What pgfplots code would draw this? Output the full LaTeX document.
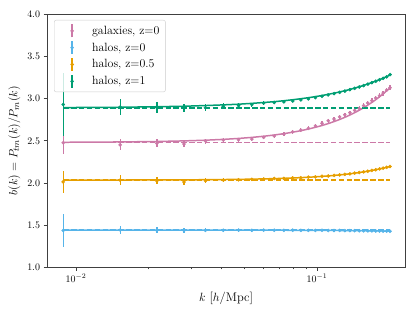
\documentclass[border=0pt]{standalone}
\usepackage{pgfplots}
\usepackage{pgfplotstable}
\pgfplotsset{compat=1.18}
\definecolor{cpink}{RGB}{204,121,167}
\definecolor{cblue}{RGB}{86,180,233}
\definecolor{corange}{RGB}{230,159,0}
\definecolor{cgreen}{RGB}{0,158,115}

% columns: k, measured bias, error, model
\pgfplotstableread{
k b e m
0.00885 2.477 0.135 2.4824
0.01525 2.452 0.067 2.4863
0.02165 2.470 0.047 2.4918
0.02805 2.461 0.037 2.4988
0.03445 2.497 0.030 2.5072
0.04085 2.509 0.026 2.5169
0.04725 2.512 0.024 2.5280
0.05365 2.520 0.022 2.5403
0.06005 2.541 0.021 2.5539
0.06645 2.558 0.020 2.5686
0.07285 2.580 0.022 2.5846
0.07925 2.606 0.024 2.6017
0.08565 2.626 0.025 2.6200
0.09205 2.648 0.025 2.6394
0.09845 2.676 0.025 2.6599
0.10485 2.708 0.025 2.6815
0.11125 2.737 0.025 2.7041
0.11765 2.759 0.025 2.7279
0.12405 2.783 0.025 2.7527
0.13045 2.809 0.025 2.7785
0.13685 2.834 0.025 2.8054
0.14325 2.860 0.028 2.8333
0.14965 2.884 0.028 2.8622
0.15605 2.918 0.028 2.8921
0.16245 2.948 0.028 2.9231
0.16885 2.976 0.028 2.9550
0.17525 3.007 0.028 2.9879
0.18165 3.034 0.028 3.0217
0.18805 3.065 0.028 3.0566
0.19445 3.102 0.028 3.0924
0.20085 3.130 0.028 3.1292
}\galz

\pgfplotstableread{
k b e m
0.00885 1.437 0.194 1.4410
0.01525 1.442 0.053 1.4409
0.02165 1.438 0.037 1.4409
0.02805 1.437 0.029 1.4408
0.03445 1.438 0.023 1.4406
0.04085 1.439 0.020 1.4405
0.04725 1.441 0.017 1.4403
0.05365 1.439 0.015 1.4401
0.06005 1.440 0.013 1.4399
0.06645 1.440 0.012 1.4397
0.07285 1.439 0.011 1.4394
0.07925 1.440 0.010 1.4391
0.08565 1.438 0.009 1.4388
0.09205 1.439 0.009 1.4385
0.09845 1.437 0.008 1.4381
0.10485 1.438 0.008 1.4377
0.11125 1.437 0.007 1.4373
0.11765 1.436 0.007 1.4368
0.12405 1.437 0.007 1.4364
0.13045 1.435 0.006 1.4359
0.13685 1.436 0.006 1.4354
0.14325 1.434 0.006 1.4348
0.14965 1.434 0.005 1.4343
0.15605 1.433 0.005 1.4337
0.16245 1.432 0.005 1.4331
0.16885 1.432 0.005 1.4324
0.17525 1.431 0.005 1.4318
0.18165 1.430 0.004 1.4311
0.18805 1.429 0.004 1.4304
0.19445 1.429 0.004 1.4297
0.20085 1.428 0.004 1.4289
}\haloz

\pgfplotstableread{
k b e m
0.00885 2.013 0.130 2.0343
0.01525 2.034 0.060 2.0349
0.02165 2.024 0.042 2.0359
0.02805 2.012 0.033 2.0371
0.03445 2.027 0.027 2.0387
0.04085 2.034 0.022 2.0407
0.04725 2.038 0.019 2.0429
0.05365 2.043 0.017 2.0455
0.06005 2.047 0.015 2.0484
0.06645 2.052 0.014 2.0517
0.07285 2.054 0.013 2.0552
0.07925 2.060 0.012 2.0591
0.08565 2.062 0.011 2.0633
0.09205 2.069 0.010 2.0679
0.09845 2.072 0.009 2.0728
0.10485 2.079 0.009 2.0780
0.11125 2.083 0.008 2.0835
0.11765 2.090 0.008 2.0894
0.12405 2.095 0.007 2.0956
0.13045 2.103 0.007 2.1021
0.13685 2.108 0.007 2.1089
0.14325 2.117 0.006 2.1161
0.14965 2.123 0.006 2.1236
0.15605 2.132 0.006 2.1314
0.16245 2.139 0.006 2.1396
0.16885 2.149 0.005 2.1480
0.17525 2.156 0.005 2.1569
0.18165 2.167 0.005 2.1660
0.18805 2.175 0.005 2.1755
0.19445 2.186 0.005 2.1852
0.20085 2.195 0.005 2.1954
}\halohalf

\pgfplotstableread{
k b e m
0.00885 2.930 0.370 2.8940
0.01525 2.900 0.090 2.8980
0.02165 2.895 0.063 2.9040
0.02805 2.887 0.049 2.9100
0.03445 2.893 0.040 2.9180
0.04085 2.910 0.034 2.9260
0.04725 2.917 0.029 2.9340
0.05365 2.928 0.026 2.9440
0.06005 2.947 0.023 2.9540
0.06645 2.955 0.021 2.9640
0.07285 2.962 0.019 2.9750
0.07925 2.972 0.017 2.9870
0.08565 2.985 0.016 2.9990
0.09205 2.998 0.015 3.0110
0.09845 3.012 0.014 3.0240
0.10485 3.028 0.013 3.0370
0.11125 3.044 0.012 3.0510
0.11765 3.060 0.012 3.0650
0.12405 3.075 0.011 3.0790
0.13045 3.090 0.011 3.0940
0.13685 3.106 0.010 3.1090
0.14325 3.122 0.010 3.1250
0.14965 3.138 0.009 3.1410
0.15605 3.155 0.009 3.1570
0.16245 3.172 0.008 3.1740
0.16885 3.189 0.008 3.1910
0.17525 3.206 0.008 3.2080
0.18165 3.224 0.008 3.2250
0.18805 3.241 0.007 3.2430
0.19445 3.259 0.007 3.2610
0.20085 3.285 0.007 3.2800
}\haloone

\pgfplotsset{
  ebleg/.style={legend image code/.code={
    \path[draw=none, fill=none] (0pt,0pt) -- (32pt,0pt);
    \draw[line width=1.3pt] (14pt,-6.5pt) -- (14pt,6.5pt);
    \fill (14pt,0pt) circle (1.6pt);}},
  ebpts/.style={only marks, mark=*, mark size=1.6pt,
    error bars/.cd, y dir=both, y explicit,
    error bar style={line width=1.3pt, solid}, error mark=none},
  model/.style={line width=1.5pt, forget plot, mark=none},
  const/.style={line width=1.5pt, forget plot, mark=none, dash pattern=on 5.5pt off 2.4pt},
}

\begin{document}
\begin{tikzpicture}
\begin{axis}[
  name=ax,
  scale only axis,
  width=358bp, height=253bp,
  xmode=log,
  xmin=0.00758, xmax=0.2317,
  ymin=1, ymax=4,
  xtick={0.01,0.1},
  ytick={1,1.5,2,2.5,3,3.5,4},
  yticklabel style={/pgf/number format/.cd, fixed, fixed zerofill, precision=1},
  tick label style={font=\fontsize{10}{12}\selectfont},
  label style={font=\fontsize{12.5}{14}\selectfont},
  xlabel style={yshift=-2.5pt},
  tick align=outside,
  tick pos=left,
  major tick length=3.5pt,
  minor tick length=2pt,
  axis line style={black!75, line width=0.8pt},
  every tick/.style={black!75, line width=0.8pt},
  xlabel={$k$ [$h$/Mpc]},
  ylabel={$b(k) = P_{tm}(k)/P_{m}(k)$},
  legend cell align=left,
  legend style={at={(0.0196,0.9775)}, anchor=north west,
    draw=black!20, rounded corners=2pt, fill=white, fill opacity=0.8, text opacity=1,
    font=\fontsize{12}{14}\selectfont, row sep=2.6pt, inner ysep=3.5pt, inner xsep=4pt},
]
% galaxies z=0
\addplot[cpink, ebleg, ebpts] table[x=k, y=b, y error=e] {\galz};
\addlegendentry{galaxies, z=0}
\addplot[cpink, model] table[x=k, y=m] {\galz};
\addplot[cpink, const] coordinates {(0.00885,2.48) (0.20085,2.48)};
% halos z=0
\addplot[cblue, ebleg, ebpts] table[x=k, y=b, y error=e] {\haloz};
\addlegendentry{halos, z=0}
\addplot[cblue, model] table[x=k, y=m] {\haloz};
\addplot[cblue, const] coordinates {(0.00885,1.44) (0.20085,1.44)};
% halos z=0.5
\addplot[corange, ebleg, ebpts] table[x=k, y=b, y error=e] {\halohalf};
\addlegendentry{halos, z=0.5}
\addplot[corange, model] table[x=k, y=m] {\halohalf};
\addplot[corange, const] coordinates {(0.00885,2.034) (0.20085,2.034)};
% halos z=1
\addplot[cgreen, ebleg, ebpts] table[x=k, y=b, y error=e] {\haloone};
\addlegendentry{halos, z=1}
\addplot[cgreen, model] table[x=k, y=m] {\haloone};
\addplot[cgreen, const] coordinates {(0.00885,2.89) (0.20085,2.89)};
\end{axis}
\path ([shift={(-47bp,-43.7bp)}]ax.south west) rectangle ([shift={(10bp,14.3bp)}]ax.north east);
\end{tikzpicture}
\end{document}
